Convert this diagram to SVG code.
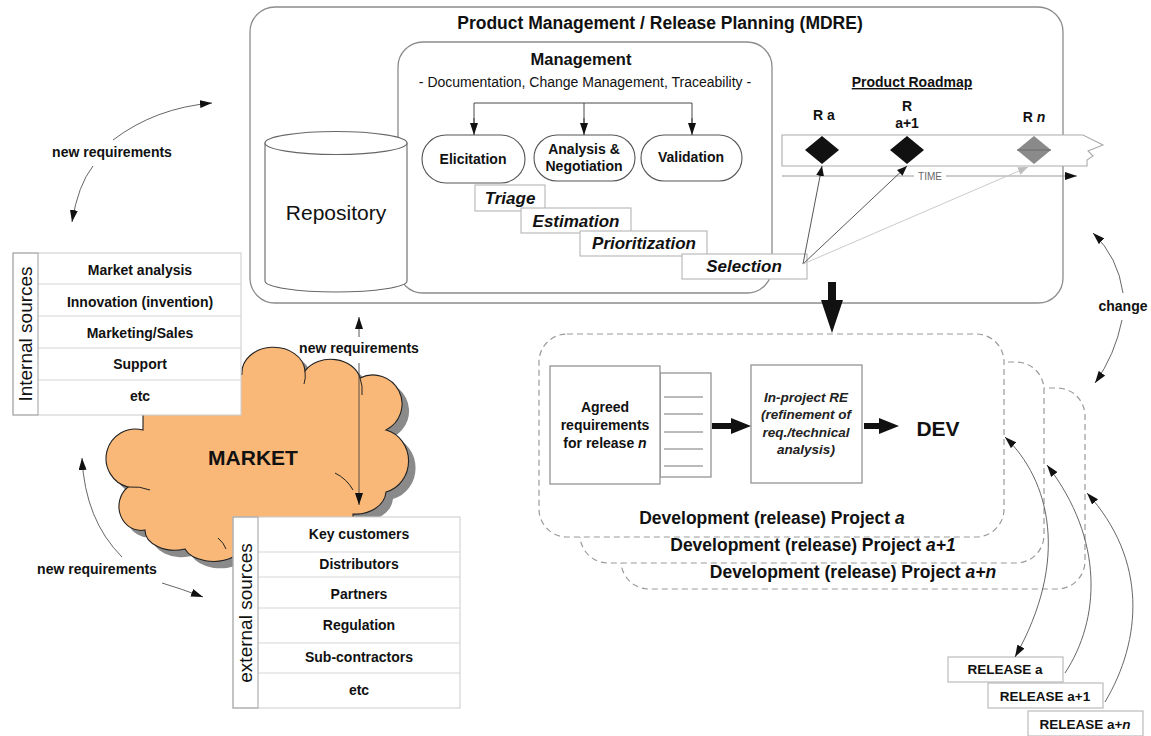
<svg xmlns="http://www.w3.org/2000/svg" width="1151" height="736" viewBox="0 0 1151 736">
  <style>
    text { font-family: "Liberation Sans", Arial, Helvetica, sans-serif; fill: #111; }
    .b { font-weight: bold; }
    .bi { font-weight: bold; font-style: italic; }
    .c { text-anchor: middle; }
    .frame { fill: #fff; stroke: #8c8c8c; stroke-width: 1.3; }
    .pill { fill: #fff; stroke: #555; stroke-width: 1.1; }
    .step { fill: #fff; stroke: #b5b5b5; stroke-width: 1.1; }
    .grid { fill: #fff; stroke: #cfcfcf; stroke-width: 1.1; }
    .gline { stroke: #d6d6d6; stroke-width: 1.1; }
    .dash { fill: #fff; stroke: #9a9a9a; stroke-width: 1.2; stroke-dasharray: 6 4; }
    .box { fill: #fff; stroke: #8a8a8a; stroke-width: 1.2; }
    .thin { fill: none; stroke: #333; stroke-width: 0.9; }
    .curve { fill: none; stroke: #555; stroke-width: 0.9; }
    .solid { fill: #111; }
  </style>
  <defs>
    <marker id="ah" viewBox="0 0 12 8" refX="12" refY="4" markerWidth="12" markerHeight="8" markerUnits="userSpaceOnUse" orient="auto-start-reverse">
      <path d="M0,0 L12,4 L0,8 Z" fill="#111"/>
    </marker>
    <marker id="ahs" viewBox="0 0 10 8" refX="10" refY="4" markerWidth="10" markerHeight="8" markerUnits="userSpaceOnUse" orient="auto">
      <path d="M0,0 L10,4 L0,8 Z" fill="#111"/>
    </marker>
    <marker id="ahg" viewBox="0 0 10 8" refX="10" refY="4" markerWidth="10" markerHeight="8" markerUnits="userSpaceOnUse" orient="auto">
      <path d="M0,0 L10,4 L0,8 Z" fill="#bdbdbd"/>
    </marker>
    <path id="cloudShape" d="M143 405 L242 374 A30 24 0 0 1 305 371 A30 24 0 0 1 360 378 A28 28 0 0 1 386 430 A30 32 0 0 1 386 492 A30 24 0 0 1 353 514 L353 566 L233 566 L233 557 A30 18 0 0 1 185 549 A30 20 0 0 1 145 530 A22 24 0 0 1 128 487 A28 28 0 0 1 143 430 Z"/>
  </defs>

  <!-- Product management / release planning frame -->
  <g id="mdre">
    <rect class="frame" x="250" y="7" width="813" height="296" rx="25"/>
    <text class="b c" x="660" y="29" font-size="17.5">Product Management / Release Planning (MDRE)</text>
  </g>

  <g id="management">
    <rect class="frame" x="398" y="42" width="374" height="251" rx="25"/>
    <text class="b c" x="581" y="65" font-size="16.5">Management</text>
    <text class="c" x="585" y="87" font-size="14">- Documentation, Change Management, Traceability -</text>
  </g>

  <g id="repository">
    <path d="M265 143 L265 281 A71 11 0 0 0 407 281 L407 143 Z" fill="#fff" stroke="#666" stroke-width="1.1"/>
    <ellipse cx="336" cy="143" rx="71" ry="11.5" fill="#fff" stroke="#666" stroke-width="1.1"/>
    <text class="c" x="336" y="220" font-size="21">Repository</text>
  </g>

  <g id="elicitation">
    <rect class="pill" x="422" y="135" width="103" height="48" rx="24"/>
    <text class="b c" x="473" y="164" font-size="14">Elicitation</text>
  </g>
  <g id="analysis">
    <rect class="pill" x="534" y="135" width="101" height="46" rx="23"/>
    <text class="b c" x="584" y="154" font-size="14">Analysis &amp;</text>
    <text class="b c" x="584" y="171" font-size="14">Negotiation</text>
  </g>
  <g id="validation">
    <rect class="pill" x="641" y="135" width="101" height="46" rx="23"/>
    <text class="b c" x="691" y="162" font-size="14">Validation</text>
  </g>

  <g id="triage">
    <rect class="step" x="475" y="185" width="70" height="26"/>
    <text class="bi c" x="510" y="204" font-size="17">Triage</text>
  </g>
  <g id="estimation">
    <rect class="step" x="521" y="208" width="110" height="25"/>
    <text class="bi c" x="576" y="227" font-size="17">Estimation</text>
  </g>
  <g id="prioritization">
    <rect class="step" x="580" y="231" width="127" height="25"/>
    <text class="bi c" x="644" y="249" font-size="17">Prioritization</text>
  </g>
  <g id="selection">
    <rect class="step" x="682" y="254" width="125" height="25"/>
    <text class="bi c" x="744" y="272" font-size="17">Selection</text>
  </g>

  <!-- Product roadmap with release milestones -->
  <g id="roadmap">
    <text class="b c" x="912" y="87" font-size="14" text-decoration="underline">Product Roadmap</text>
    <path d="M782 135 L1083 135 L1103 145 L1088 151 L1093 156 L1087 160 L1087 166 L782 166 Z" fill="#fff" stroke="#ababab" stroke-width="1.1"/>
    <line x1="782" y1="176" x2="1077" y2="176" stroke="#999" stroke-width="1.1" marker-end="url(#ah)"/>
    <rect x="914" y="170" width="32" height="12" fill="#fff"/>
    <text class="c" x="930" y="180" font-size="10" style="fill:#666">TIME</text>
  </g>
  <g id="release-ra">
    <text class="b c" x="824" y="120" font-size="14">R a</text>
    <polygon class="solid" points="822,136 839,150 822,164 805,150"/>
  </g>
  <g id="release-ra1">
    <text class="b c" x="907" y="111" font-size="14">R</text>
    <text class="b c" x="907" y="128" font-size="14">a+1</text>
    <polygon class="solid" points="907,136 924,150 907,164 890,150"/>
  </g>
  <g id="release-rn">
    <text class="b c" x="1034" y="122" font-size="14">R <tspan font-style="italic">n</tspan></text>
    <polygon points="1034,136 1051,150 1034,164 1017,150" fill="#8a8a8a"/>
    <line x1="1017" y1="150" x2="1051" y2="150" stroke="#6a6a6a" stroke-width="1"/>
  </g>

  <!-- Market cloud sits underneath both source tables -->
  <g id="market">
    <use href="#cloudShape" transform="translate(7,7)" fill="#8a8a8a"/>
    <use href="#cloudShape" fill="#f9b878" stroke="#222" stroke-width="1.1"/>
    <path d="M128 487 Q140 486 150 490" fill="none" stroke="#222" stroke-width="1"/>
    <path d="M218 538 Q224 543 226 549" fill="none" stroke="#222" stroke-width="1"/>
    <path d="M335 473 Q347 479 353 490" fill="none" stroke="#222" stroke-width="1"/>
    <path d="M305 371 Q306 378 304 384" fill="none" stroke="#222" stroke-width="1"/>
    <path d="M360 378 Q363 386 362 395" fill="none" stroke="#222" stroke-width="1"/>
    <text class="b c" x="253" y="465" font-size="21">MARKET</text>
  </g>

  <!-- Requirement sources -->
  <g id="internal-sources">
    <rect class="grid" x="13" y="253" width="228" height="162"/>
    <line class="gline" x1="38" y1="284" x2="241" y2="284"/>
    <line class="gline" x1="38" y1="316" x2="241" y2="316"/>
    <line class="gline" x1="38" y1="348" x2="241" y2="348"/>
    <line class="gline" x1="38" y1="380" x2="241" y2="380"/>
    <rect x="13" y="253" width="25" height="162" fill="none" stroke="#a8a8a8" stroke-width="1.1"/>
    <text class="c" transform="translate(32,334) rotate(-90)" font-size="19">Internal sources</text>
    <text class="b c" x="140" y="275" font-size="14">Market analysis</text>
    <text class="b c" x="140" y="307" font-size="14">Innovation (invention)</text>
    <text class="b c" x="140" y="338" font-size="14">Marketing/Sales</text>
    <text class="b c" x="140" y="369" font-size="14">Support</text>
    <text class="b c" x="140" y="401" font-size="14">etc</text>
  </g>

  <g id="external-sources">
    <rect class="grid" x="233" y="517" width="227" height="191"/>
    <line class="gline" x1="258" y1="552" x2="460" y2="552"/>
    <line class="gline" x1="258" y1="577" x2="460" y2="577"/>
    <line class="gline" x1="258" y1="608" x2="460" y2="608"/>
    <line class="gline" x1="258" y1="643" x2="460" y2="643"/>
    <line class="gline" x1="258" y1="673" x2="460" y2="673"/>
    <rect x="233" y="517" width="25" height="191" fill="none" stroke="#a8a8a8" stroke-width="1.1"/>
    <text class="c" transform="translate(252,613) rotate(-90)" font-size="19">external sources</text>
    <text class="b c" x="359" y="539" font-size="14">Key customers</text>
    <text class="b c" x="359" y="569" font-size="14">Distributors</text>
    <text class="b c" x="359" y="599" font-size="14">Partners</text>
    <text class="b c" x="359" y="630" font-size="14">Regulation</text>
    <text class="b c" x="359" y="662" font-size="14">Sub-contractors</text>
    <text class="b c" x="359" y="695" font-size="14">etc</text>
  </g>

  <!-- Development (release) projects, drawn back to front -->
  <g id="project-an">
    <rect class="dash" x="621" y="388" width="464" height="201" rx="28"/>
    <text class="b c" x="853" y="578" font-size="17.5">Development (release) Project <tspan font-style="italic">a+n</tspan></text>
  </g>
  <g id="project-a1">
    <rect class="dash" x="580" y="362" width="464" height="201" rx="28"/>
    <text class="b c" x="813" y="551" font-size="17.5">Development (release) Project <tspan font-style="italic">a+1</tspan></text>
  </g>
  <g id="project-a">
    <rect class="dash" x="539" y="334" width="465" height="203" rx="28"/>
    <text class="b c" x="772" y="524" font-size="17.5">Development (release) Project <tspan font-style="italic">a</tspan></text>
  </g>

  <g id="agreed-requirements">
    <rect class="box" x="660" y="373" width="51" height="104"/>
    <line x1="664" y1="397" x2="703" y2="397" stroke="#777" stroke-width="1"/>
    <line x1="664" y1="414" x2="703" y2="414" stroke="#777" stroke-width="1"/>
    <line x1="664" y1="432" x2="703" y2="432" stroke="#777" stroke-width="1"/>
    <line x1="664" y1="449" x2="703" y2="449" stroke="#777" stroke-width="1"/>
    <line x1="664" y1="466" x2="703" y2="466" stroke="#777" stroke-width="1"/>
    <rect class="box" x="550" y="366" width="110" height="118"/>
    <text class="b c" x="605" y="412" font-size="14">Agreed</text>
    <text class="b c" x="605" y="430" font-size="14">requirements</text>
    <text class="b c" x="605" y="448" font-size="14">for release <tspan font-style="italic">n</tspan></text>
  </g>

  <g id="in-project-re">
    <rect class="box" x="751" y="365" width="111" height="118"/>
    <text class="bi c" x="806" y="402" font-size="13.5" style="fill:#222">In-project RE</text>
    <text class="bi c" x="806" y="419" font-size="13.5" style="fill:#222">(refinement of</text>
    <text class="bi c" x="806" y="437" font-size="13.5" style="fill:#222">req./technical</text>
    <text class="bi c" x="806" y="454" font-size="13.5" style="fill:#222">analysis)</text>
  </g>

  <g id="dev">
    <text class="b c" x="938" y="436" font-size="21">DEV</text>
  </g>

  <g id="release-a">
    <rect class="step" x="948" y="657" width="115" height="25"/>
    <text class="b c" x="1005" y="674" font-size="13.5">RELEASE a</text>
  </g>
  <g id="release-a1">
    <rect class="step" x="988" y="683" width="115" height="25"/>
    <text class="b c" x="1045" y="701" font-size="13.5">RELEASE a+1</text>
  </g>
  <g id="release-an">
    <rect class="step" x="1028" y="711" width="115" height="25"/>
    <text class="b c" x="1085" y="729" font-size="13.5">RELEASE a+<tspan font-style="italic">n</tspan></text>
  </g>

  <!-- Connectors -->
  <g id="connectors">
    <!-- management bracket onto the three activities -->
    <path class="thin" d="M474 123 L474 103 L692 103 L692 123 M584 103 L584 123"/>
    <line x1="474" y1="118" x2="474" y2="135" stroke="#333" stroke-width="0.9" marker-end="url(#ah)"/>
    <line x1="584" y1="118" x2="584" y2="135" stroke="#333" stroke-width="0.9" marker-end="url(#ah)"/>
    <line x1="692" y1="118" x2="692" y2="135" stroke="#333" stroke-width="0.9" marker-end="url(#ah)"/>

    <!-- selection onto releases in the roadmap -->
    <line x1="803" y1="264" x2="822" y2="166" stroke="#444" stroke-width="0.9" marker-end="url(#ahs)"/>
    <line x1="803" y1="264" x2="907" y2="166" stroke="#444" stroke-width="0.9" marker-end="url(#ahs)"/>
    <line x1="803" y1="264" x2="1028" y2="167" stroke="#c4c4c4" stroke-width="0.9" marker-end="url(#ahg)"/>

    <!-- planning hands over to development -->
    <polygon class="solid" points="828,282 836,282 836,300 843,300 832,333 821,300 828,300"/>

    <!-- agreed requirements to in-project RE to DEV -->
    <polygon class="solid" points="712,423 731,423 731,418 751,426 731,434 731,429 712,429"/>
    <polygon class="solid" points="864,423 879,423 879,418 899,426 879,434 879,429 864,429"/>

    <!-- new requirements: sources to repository -->
    <path class="curve" d="M113 140 Q155 108 212 103" marker-end="url(#ah)"/>
    <path class="curve" d="M93 166 Q78 185 72 222" marker-end="url(#ah)"/>
    <text class="b c" x="112" y="157" font-size="14">new requirements</text>

    <line x1="359" y1="337" x2="359" y2="317" stroke="#444" stroke-width="0.9" marker-end="url(#ah)"/>
    <line x1="359" y1="363" x2="359" y2="505" stroke="#444" stroke-width="0.9" marker-end="url(#ah)"/>
    <text class="b c" x="359" y="353" font-size="14">new requirements</text>

    <path class="curve" d="M122 557 Q85 520 82 458" marker-end="url(#ah)"/>
    <path class="curve" d="M162 583 Q182 589 203 597" marker-end="url(#ah)"/>
    <text class="b c" x="97" y="574" font-size="14">new requirements</text>

    <!-- change feedback between development and planning -->
    <path class="curve" d="M1123 293 Q1118 257 1093 233" marker-end="url(#ah)"/>
    <path class="curve" d="M1122 320 Q1115 355 1095 383" marker-end="url(#ah)"/>
    <text class="b c" x="1123" y="311" font-size="14">change</text>

    <!-- releases out of the development projects -->
    <path class="curve" d="M1005 437 C1050 480 1070 560 1015 657" marker-start="url(#ah)" marker-end="url(#ah)"/>
    <path class="curve" d="M1065 673 C1100 620 1105 540 1047 465" marker-end="url(#ah)"/>
    <path class="curve" d="M1105 702 C1142 640 1148 560 1087 493" marker-end="url(#ah)"/>
  </g>
</svg>
